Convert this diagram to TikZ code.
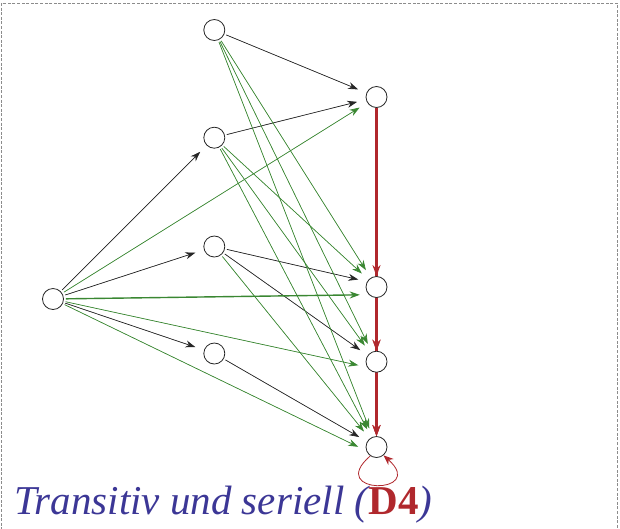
\documentclass[tikz,border=0pt]{standalone}
\usepackage{fontspec}
\setmainfont{Liberation Serif}
\usetikzlibrary{arrows.meta,backgrounds}
\definecolor{grn}{RGB}{58,135,50}
\definecolor{rd}{RGB}{176,40,45}
\definecolor{ttl}{RGB}{60,55,150}
\definecolor{brd}{RGB}{140,140,140}
\begin{document}
\begin{tikzpicture}[x=1pt,y=-1pt,
  world/.style={circle,draw=black!85,fill=white,line width=0.8pt,minimum size=21pt,inner sep=0pt},
  base/.style={line width=0.7pt,-{Stealth[length=10pt,width=7pt]},shorten >=9pt,shorten <=2pt},
  blk/.style={base,draw=black!85,fill=black!85},
  gr/.style={base,draw=grn,fill=grn},
  rdl/.style={line width=2.2pt,draw=rd,-{Stealth[length=11pt,width=8pt]},shorten <=0pt}]
\useasboundingbox (0,0) rectangle (620,528);
\draw[brd,line width=1pt,dash pattern=on 3pt off 1.6pt] (1.5,3) rectangle (617.5,560);
\node[world] (L) at (53,299) {};
\node[world] (A1) at (214.3,30) {};
\node[world] (A2) at (214.3,137.7) {};
\node[world] (A3) at (214.3,246.5) {};
\node[world] (A4) at (214.3,353.5) {};
\node[world] (B1) at (376.5,97) {};
\node[world] (B2) at (376.5,287) {};
\node[world] (B3) at (376.5,361.7) {};
\node[world] (B4) at (376.5,447) {};
\begin{pgfonlayer}{background}
\draw[blk] (L) -- (A2);
\draw[blk] (L) -- (A3);
\draw[blk] (L) -- (A4);
\draw[blk] (A1) -- (B1);
\draw[blk] (A2) -- (B1);
\draw[blk] (A3) -- (B2.150);
\draw[blk] (A3) -- (B3);
\draw[blk] (A4) -- (B4);
\draw[gr] (L) -- (B1);
\draw[gr,line width=1.4pt] (L) -- (B2.225);
\draw[gr] (L) -- (B3.210);
\draw[gr] (L) -- (B4.200);
\draw[gr] (A1) -- (B2);
\draw[gr] (A1) -- (B3);
\draw[gr] (A1) -- (B4);
\draw[gr] (A2) -- (B2);
\draw[gr] (A2) -- (B3);
\draw[gr] (A2) -- (B4);
\draw[gr] (A3) -- (B4);
\draw[rdl] (B1) -- (B2);
\draw[rdl] (B2) -- (B3);
\draw[rdl] (B3) -- (B4);
\draw[rdl] (B1) -- (B3);
\draw[rdl] (B1) -- (B4);
\draw[rdl] (B2) -- (B4);
\end{pgfonlayer}
\draw[rd,line width=0.8pt,-{Stealth[length=10pt,width=8pt]}] (B4.235) .. controls (325,495) and (428,495) .. (B4.-50);
\node[anchor=base west,inner sep=0pt,text=ttl,font=\fontsize{41}{45}\selectfont\itshape] (T) at (14,514) {Transitiv und seriell (\textcolor{rd}{\upshape\bfseries D4})};
\end{tikzpicture}
\end{document}
